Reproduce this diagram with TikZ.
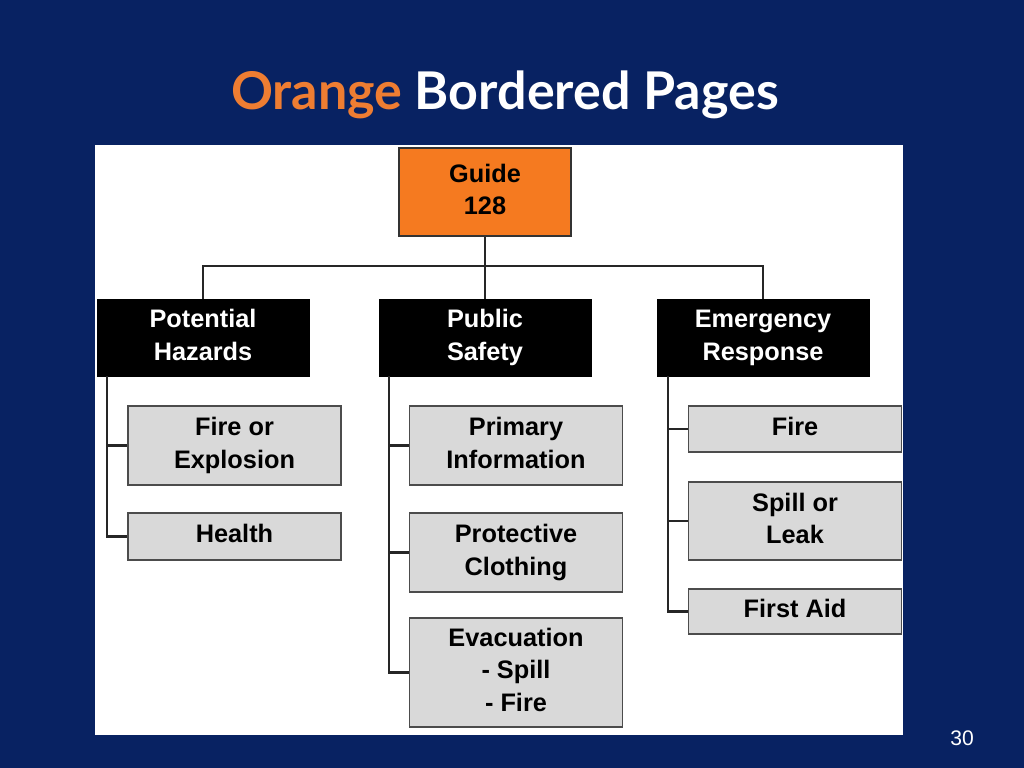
\documentclass[tikz,border=0pt]{standalone}
\usepackage{fontspec}
\setmainfont{Liberation Sans}
\newfontfamily\titlefont{Lato}
\usetikzlibrary{positioning}
\definecolor{navy}{RGB}{8,34,98}
\definecolor{guideorange}{RGB}{245,122,32}
\definecolor{titleorange}{RGB}{238,125,50}
\definecolor{boxgray}{RGB}{217,217,217}
\newcommand{\boxline}[1]{\strut#1}
\begin{document}
\begin{tikzpicture}[x=0.025cm,y=-0.025cm,
    every node/.style={inner sep=0pt, align=center, font=\bfseries\fontsize{18}{23}\selectfont},
    head/.style={draw=black, fill=black, text=white, minimum width=212*0.025cm, minimum height=77*0.025cm},
    item/.style={draw=black!70, line width=1.2pt, fill=boxgray, minimum width=213*0.025cm},
    link/.style={draw=black!85, line width=1.5pt}
]
    \useasboundingbox (0,0) rectangle (1024,768);
    \fill[navy] (0,0) rectangle (1024,768);
    \fill[white] (95,145) rectangle (903,735);
    % title
    \node (title) at (505,95) {\titlefont\fontsize{37}{44}\selectfont
        \textcolor{titleorange}{Orange} \textcolor{white}{Bordered Pages}};
    \node (pagenum) [font=\fontsize{15}{18}\selectfont, text=white] at (962,738) {30};
    % top box
    \node (guide) [draw=black!80, line width=1.5pt, fill=guideorange, minimum width=172*0.025cm, minimum height=88*0.025cm] at (485,192)
    {
        \boxline{Guide}\\\boxline{128}
    };
    % headers
    \node (hazards) [head] at (203,337.5) {\boxline{Potential}\\\boxline{Hazards}};
    \node (safety) [head] at (485,337.5) {\boxline{Public}\\\boxline{Safety}};
    \node (response) [head] at (763,337.5) {\boxline{Emergency}\\\boxline{Response}};
    % left column
    \node (explosion) [item, minimum height=79*0.025cm] at (234.5,445.5) {\boxline{Fire or}\\\boxline{Explosion}};
    \node (health) [item, minimum height=47*0.025cm] at (234.5,536.5) {\boxline{Health}};
    % middle column
    \node (primary) [item, minimum height=79*0.025cm] at (516,445.5) {\boxline{Primary}\\\boxline{Information}};
    \node (clothing) [item, minimum height=79*0.025cm] at (516,552.5) {\boxline{Protective}\\\boxline{Clothing}};
    \node (evacuation) [item, minimum height=109*0.025cm] at (516,672.5) {\boxline{Evacuation}\\\boxline{- Spill}\\\boxline{- Fire}};
    % right column
    \node (fire) [item, minimum height=46*0.025cm] at (795,429) {\boxline{Fire}};
    \node (spill) [item, minimum height=78*0.025cm] at (795,521) {\boxline{Spill or}\\\boxline{Leak}};
    \node (firstaid) [item, minimum height=45*0.025cm] at (795,611.5) {\boxline{First Aid}};
    % tree lines
    \coordinate (bar) at (485,266);
    \draw[link] (guide.south) -- (bar);
    \draw[link] (hazards.north) |- (bar) -| (response.north);
    \draw[link] (bar) -- (safety.north);
    \draw[link] (107,376) |- (health.west);
    \draw[link] (107,445.5) -- (explosion.west);
    \draw[link] (389,376) |- (evacuation.west);
    \draw[link] (389,445.5) -- (primary.west);
    \draw[link] (389,552.5) -- (clothing.west);
    \draw[link] (668,376) |- (firstaid.west);
    \draw[link] (668,429) -- (fire.west);
    \draw[link] (668,521) -- (spill.west);
\end{tikzpicture}
\end{document}
